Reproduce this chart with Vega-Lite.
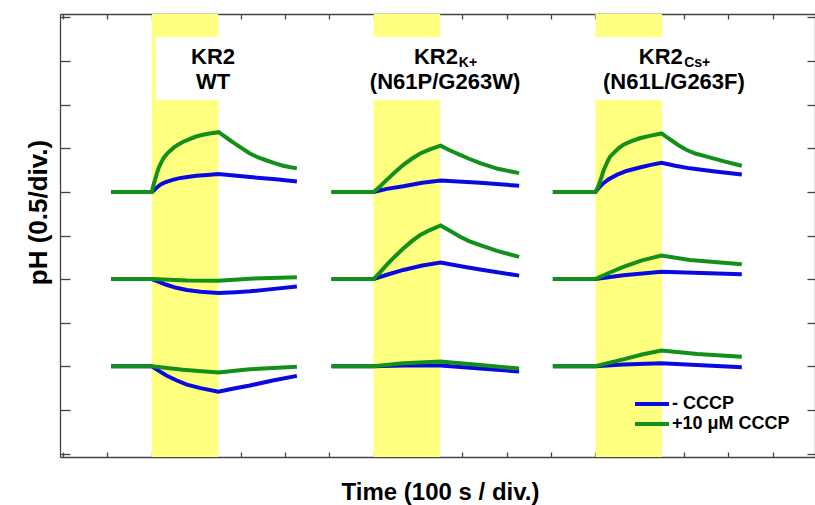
{
  "$schema": "https://vega.github.io/schema/vega-lite/v6.json",
  "width": 755,
  "height": 443,
  "autosize": {"type": "none"},
  "padding": {"left": 60, "top": 14, "right": 0, "bottom": 48},
  "background": "white",
  "config": {
    "view": {"stroke": null},
    "font": "Liberation Sans",
    "legend": {
      "orient": "none",
      "legendX": 583,
      "legendY": 381,
      "title": null,
      "padding": 0,
      "symbolType": "M-3.4,0H3.4",
      "symbolSize": 100,
      "symbolStrokeWidth": 4,
      "labelFont": "Liberation Sans",
      "labelFontSize": 18,
      "labelFontWeight": "bold",
      "labelColor": "black",
      "labelOffset": 11,
      "rowPadding": 2
    }
  },
  "datasets": {
    "bands": [
      {"x": 2, "x2": 3.5, "y": 9.55, "y2": 10.08},
      {"x": 2, "x2": 3.5, "y": -0.08, "y2": 8.11},
      {"x": 2, "x2": 2.09, "y": 8.11, "y2": 9.55},
      {"x": 7, "x2": 8.5, "y": 9.55, "y2": 10.08},
      {"x": 7, "x2": 8.5, "y": -0.08, "y2": 8.11},
      {"x": 12, "x2": 13.5, "y": 9.55, "y2": 10.08},
      {"x": 12, "x2": 13.5, "y": -0.08, "y2": 8.11}
    ],
    "titles": [
      {"x": 3.38, "y": 8.93, "label": "KR2"},
      {"x": 3.38, "y": 8.36, "label": "WT"},
      {"x": 8.61, "y": 8.36, "label": "(N61P/G263W)"},
      {"x": 13.77, "y": 8.36, "label": "(N61L/G263F)"}
    ],
    "heads": [
      {"x": 8.9, "y": 8.93, "label": "KR2"},
      {"x": 13.97, "y": 8.93, "label": "KR2"}
    ],
    "subs": [
      {"x": 8.92, "y": 8.87, "label": "K+"},
      {"x": 14.0, "y": 8.87, "label": "Cs+"}
    ],
    "traces": [
      {"c": "- CCCP", "p": 1, "r": "a", "t": 1.08, "v": 6},
      {"c": "- CCCP", "p": 1, "r": "a", "t": 2, "v": 6},
      {"c": "- CCCP", "p": 1, "r": "a", "t": 2.05, "v": 6.04},
      {"c": "- CCCP", "p": 1, "r": "a", "t": 2.1, "v": 6.09},
      {"c": "- CCCP", "p": 1, "r": "a", "t": 2.15, "v": 6.13},
      {"c": "- CCCP", "p": 1, "r": "a", "t": 2.2, "v": 6.17},
      {"c": "- CCCP", "p": 1, "r": "a", "t": 2.3, "v": 6.22},
      {"c": "- CCCP", "p": 1, "r": "a", "t": 2.45, "v": 6.27},
      {"c": "- CCCP", "p": 1, "r": "a", "t": 2.6, "v": 6.31},
      {"c": "- CCCP", "p": 1, "r": "a", "t": 2.8, "v": 6.34},
      {"c": "- CCCP", "p": 1, "r": "a", "t": 3.0, "v": 6.37},
      {"c": "- CCCP", "p": 1, "r": "a", "t": 3.25, "v": 6.39},
      {"c": "- CCCP", "p": 1, "r": "a", "t": 3.5, "v": 6.41},
      {"c": "- CCCP", "p": 1, "r": "a", "t": 4.21, "v": 6.34},
      {"c": "- CCCP", "p": 1, "r": "a", "t": 4.8, "v": 6.29},
      {"c": "- CCCP", "p": 1, "r": "a", "t": 5.27, "v": 6.24},
      {"c": "- CCCP", "p": 1, "r": "b", "t": 1.08, "v": 4},
      {"c": "- CCCP", "p": 1, "r": "b", "t": 2, "v": 4},
      {"c": "- CCCP", "p": 1, "r": "b", "t": 2.15, "v": 3.94},
      {"c": "- CCCP", "p": 1, "r": "b", "t": 2.33, "v": 3.87},
      {"c": "- CCCP", "p": 1, "r": "b", "t": 2.55, "v": 3.8},
      {"c": "- CCCP", "p": 1, "r": "b", "t": 2.79, "v": 3.75},
      {"c": "- CCCP", "p": 1, "r": "b", "t": 3.1, "v": 3.71},
      {"c": "- CCCP", "p": 1, "r": "b", "t": 3.5, "v": 3.68},
      {"c": "- CCCP", "p": 1, "r": "b", "t": 3.9, "v": 3.7},
      {"c": "- CCCP", "p": 1, "r": "b", "t": 4.21, "v": 3.72},
      {"c": "- CCCP", "p": 1, "r": "b", "t": 4.7, "v": 3.77},
      {"c": "- CCCP", "p": 1, "r": "b", "t": 5.27, "v": 3.83},
      {"c": "- CCCP", "p": 1, "r": "c", "t": 1.08, "v": 2},
      {"c": "- CCCP", "p": 1, "r": "c", "t": 2, "v": 2},
      {"c": "- CCCP", "p": 1, "r": "c", "t": 2.15, "v": 1.9},
      {"c": "- CCCP", "p": 1, "r": "c", "t": 2.33, "v": 1.79},
      {"c": "- CCCP", "p": 1, "r": "c", "t": 2.55, "v": 1.68},
      {"c": "- CCCP", "p": 1, "r": "c", "t": 2.79, "v": 1.58},
      {"c": "- CCCP", "p": 1, "r": "c", "t": 3.1, "v": 1.5},
      {"c": "- CCCP", "p": 1, "r": "c", "t": 3.5, "v": 1.42},
      {"c": "- CCCP", "p": 1, "r": "c", "t": 3.85, "v": 1.49},
      {"c": "- CCCP", "p": 1, "r": "c", "t": 4.21, "v": 1.56},
      {"c": "- CCCP", "p": 1, "r": "c", "t": 4.7, "v": 1.67},
      {"c": "- CCCP", "p": 1, "r": "c", "t": 5.27, "v": 1.78},
      {"c": "- CCCP", "p": 2, "r": "a", "t": 6.05, "v": 6},
      {"c": "- CCCP", "p": 2, "r": "a", "t": 7, "v": 6},
      {"c": "- CCCP", "p": 2, "r": "a", "t": 7.3, "v": 6.07},
      {"c": "- CCCP", "p": 2, "r": "a", "t": 7.67, "v": 6.13},
      {"c": "- CCCP", "p": 2, "r": "a", "t": 8.1, "v": 6.21},
      {"c": "- CCCP", "p": 2, "r": "a", "t": 8.51, "v": 6.26},
      {"c": "- CCCP", "p": 2, "r": "a", "t": 9.4, "v": 6.21},
      {"c": "- CCCP", "p": 2, "r": "a", "t": 10.28, "v": 6.14},
      {"c": "- CCCP", "p": 2, "r": "b", "t": 6.05, "v": 4},
      {"c": "- CCCP", "p": 2, "r": "b", "t": 7, "v": 4},
      {"c": "- CCCP", "p": 2, "r": "b", "t": 7.3, "v": 4.1},
      {"c": "- CCCP", "p": 2, "r": "b", "t": 7.67, "v": 4.21},
      {"c": "- CCCP", "p": 2, "r": "b", "t": 8.1, "v": 4.31},
      {"c": "- CCCP", "p": 2, "r": "b", "t": 8.51, "v": 4.38},
      {"c": "- CCCP", "p": 2, "r": "b", "t": 9.0, "v": 4.29},
      {"c": "- CCCP", "p": 2, "r": "b", "t": 9.4, "v": 4.22},
      {"c": "- CCCP", "p": 2, "r": "b", "t": 10.28, "v": 4.08},
      {"c": "- CCCP", "p": 2, "r": "c", "t": 6.05, "v": 2},
      {"c": "- CCCP", "p": 2, "r": "c", "t": 7, "v": 2},
      {"c": "- CCCP", "p": 2, "r": "c", "t": 7.67, "v": 2.02},
      {"c": "- CCCP", "p": 2, "r": "c", "t": 8.51, "v": 2.02},
      {"c": "- CCCP", "p": 2, "r": "c", "t": 9.4, "v": 1.95},
      {"c": "- CCCP", "p": 2, "r": "c", "t": 10.28, "v": 1.88},
      {"c": "- CCCP", "p": 3, "r": "a", "t": 11.04, "v": 6},
      {"c": "- CCCP", "p": 3, "r": "a", "t": 12, "v": 6},
      {"c": "- CCCP", "p": 3, "r": "a", "t": 12.05, "v": 6.06},
      {"c": "- CCCP", "p": 3, "r": "a", "t": 12.1, "v": 6.12},
      {"c": "- CCCP", "p": 3, "r": "a", "t": 12.18, "v": 6.2},
      {"c": "- CCCP", "p": 3, "r": "a", "t": 12.3, "v": 6.29},
      {"c": "- CCCP", "p": 3, "r": "a", "t": 12.48, "v": 6.39},
      {"c": "- CCCP", "p": 3, "r": "a", "t": 12.7, "v": 6.48},
      {"c": "- CCCP", "p": 3, "r": "a", "t": 13, "v": 6.56},
      {"c": "- CCCP", "p": 3, "r": "a", "t": 13.25, "v": 6.62},
      {"c": "- CCCP", "p": 3, "r": "a", "t": 13.49, "v": 6.67},
      {"c": "- CCCP", "p": 3, "r": "a", "t": 13.8, "v": 6.6},
      {"c": "- CCCP", "p": 3, "r": "a", "t": 14.13, "v": 6.54},
      {"c": "- CCCP", "p": 3, "r": "a", "t": 14.7, "v": 6.47},
      {"c": "- CCCP", "p": 3, "r": "a", "t": 15.3, "v": 6.4},
      {"c": "- CCCP", "p": 3, "r": "b", "t": 11.04, "v": 4},
      {"c": "- CCCP", "p": 3, "r": "b", "t": 12, "v": 4},
      {"c": "- CCCP", "p": 3, "r": "b", "t": 12.63, "v": 4.09},
      {"c": "- CCCP", "p": 3, "r": "b", "t": 13.49, "v": 4.17},
      {"c": "- CCCP", "p": 3, "r": "b", "t": 15.3, "v": 4.11},
      {"c": "- CCCP", "p": 3, "r": "c", "t": 11.04, "v": 2},
      {"c": "- CCCP", "p": 3, "r": "c", "t": 12, "v": 2},
      {"c": "- CCCP", "p": 3, "r": "c", "t": 12.63, "v": 2.04},
      {"c": "- CCCP", "p": 3, "r": "c", "t": 13.49, "v": 2.07},
      {"c": "- CCCP", "p": 3, "r": "c", "t": 15.3, "v": 1.98},
      {"c": "+10 μM CCCP", "p": 1, "r": "a", "t": 1.08, "v": 6},
      {"c": "+10 μM CCCP", "p": 1, "r": "a", "t": 2, "v": 6},
      {"c": "+10 μM CCCP", "p": 1, "r": "a", "t": 2.03, "v": 6.13},
      {"c": "+10 μM CCCP", "p": 1, "r": "a", "t": 2.07, "v": 6.27},
      {"c": "+10 μM CCCP", "p": 1, "r": "a", "t": 2.11, "v": 6.41},
      {"c": "+10 μM CCCP", "p": 1, "r": "a", "t": 2.15, "v": 6.54},
      {"c": "+10 μM CCCP", "p": 1, "r": "a", "t": 2.2, "v": 6.65},
      {"c": "+10 μM CCCP", "p": 1, "r": "a", "t": 2.26, "v": 6.77},
      {"c": "+10 μM CCCP", "p": 1, "r": "a", "t": 2.33, "v": 6.86},
      {"c": "+10 μM CCCP", "p": 1, "r": "a", "t": 2.41, "v": 6.94},
      {"c": "+10 μM CCCP", "p": 1, "r": "a", "t": 2.5, "v": 7.02},
      {"c": "+10 μM CCCP", "p": 1, "r": "a", "t": 2.6, "v": 7.09},
      {"c": "+10 μM CCCP", "p": 1, "r": "a", "t": 2.71, "v": 7.15},
      {"c": "+10 μM CCCP", "p": 1, "r": "a", "t": 2.85, "v": 7.21},
      {"c": "+10 μM CCCP", "p": 1, "r": "a", "t": 3.0, "v": 7.27},
      {"c": "+10 μM CCCP", "p": 1, "r": "a", "t": 3.15, "v": 7.31},
      {"c": "+10 μM CCCP", "p": 1, "r": "a", "t": 3.3, "v": 7.34},
      {"c": "+10 μM CCCP", "p": 1, "r": "a", "t": 3.51, "v": 7.37},
      {"c": "+10 μM CCCP", "p": 1, "r": "a", "t": 3.6, "v": 7.3},
      {"c": "+10 μM CCCP", "p": 1, "r": "a", "t": 3.7, "v": 7.23},
      {"c": "+10 μM CCCP", "p": 1, "r": "a", "t": 3.84, "v": 7.13},
      {"c": "+10 μM CCCP", "p": 1, "r": "a", "t": 4.0, "v": 7.02},
      {"c": "+10 μM CCCP", "p": 1, "r": "a", "t": 4.21, "v": 6.88},
      {"c": "+10 μM CCCP", "p": 1, "r": "a", "t": 4.4, "v": 6.79},
      {"c": "+10 μM CCCP", "p": 1, "r": "a", "t": 4.59, "v": 6.72},
      {"c": "+10 μM CCCP", "p": 1, "r": "a", "t": 4.8, "v": 6.65},
      {"c": "+10 μM CCCP", "p": 1, "r": "a", "t": 4.96, "v": 6.6},
      {"c": "+10 μM CCCP", "p": 1, "r": "a", "t": 5.1, "v": 6.57},
      {"c": "+10 μM CCCP", "p": 1, "r": "a", "t": 5.27, "v": 6.54},
      {"c": "+10 μM CCCP", "p": 1, "r": "b", "t": 1.08, "v": 4},
      {"c": "+10 μM CCCP", "p": 1, "r": "b", "t": 2, "v": 4},
      {"c": "+10 μM CCCP", "p": 1, "r": "b", "t": 2.8, "v": 3.97},
      {"c": "+10 μM CCCP", "p": 1, "r": "b", "t": 3.5, "v": 3.96},
      {"c": "+10 μM CCCP", "p": 1, "r": "b", "t": 4.2, "v": 4.01},
      {"c": "+10 μM CCCP", "p": 1, "r": "b", "t": 5.27, "v": 4.04},
      {"c": "+10 μM CCCP", "p": 1, "r": "c", "t": 1.08, "v": 2},
      {"c": "+10 μM CCCP", "p": 1, "r": "c", "t": 2, "v": 2},
      {"c": "+10 μM CCCP", "p": 1, "r": "c", "t": 2.7, "v": 1.92},
      {"c": "+10 μM CCCP", "p": 1, "r": "c", "t": 3.5, "v": 1.86},
      {"c": "+10 μM CCCP", "p": 1, "r": "c", "t": 4.2, "v": 1.93},
      {"c": "+10 μM CCCP", "p": 1, "r": "c", "t": 5.27, "v": 1.99},
      {"c": "+10 μM CCCP", "p": 2, "r": "a", "t": 6.05, "v": 6},
      {"c": "+10 μM CCCP", "p": 2, "r": "a", "t": 7, "v": 6},
      {"c": "+10 μM CCCP", "p": 2, "r": "a", "t": 7.15, "v": 6.13},
      {"c": "+10 μM CCCP", "p": 2, "r": "a", "t": 7.29, "v": 6.27},
      {"c": "+10 μM CCCP", "p": 2, "r": "a", "t": 7.48, "v": 6.45},
      {"c": "+10 μM CCCP", "p": 2, "r": "a", "t": 7.67, "v": 6.62},
      {"c": "+10 μM CCCP", "p": 2, "r": "a", "t": 7.86, "v": 6.76},
      {"c": "+10 μM CCCP", "p": 2, "r": "a", "t": 8.05, "v": 6.88},
      {"c": "+10 μM CCCP", "p": 2, "r": "a", "t": 8.28, "v": 6.98},
      {"c": "+10 μM CCCP", "p": 2, "r": "a", "t": 8.51, "v": 7.06},
      {"c": "+10 μM CCCP", "p": 2, "r": "a", "t": 8.7, "v": 6.96},
      {"c": "+10 μM CCCP", "p": 2, "r": "a", "t": 8.95, "v": 6.85},
      {"c": "+10 μM CCCP", "p": 2, "r": "a", "t": 9.15, "v": 6.76},
      {"c": "+10 μM CCCP", "p": 2, "r": "a", "t": 9.4, "v": 6.66},
      {"c": "+10 μM CCCP", "p": 2, "r": "a", "t": 9.8, "v": 6.53},
      {"c": "+10 μM CCCP", "p": 2, "r": "a", "t": 10.28, "v": 6.43},
      {"c": "+10 μM CCCP", "p": 2, "r": "b", "t": 6.05, "v": 4},
      {"c": "+10 μM CCCP", "p": 2, "r": "b", "t": 7, "v": 4},
      {"c": "+10 μM CCCP", "p": 2, "r": "b", "t": 7.15, "v": 4.16},
      {"c": "+10 μM CCCP", "p": 2, "r": "b", "t": 7.29, "v": 4.32},
      {"c": "+10 μM CCCP", "p": 2, "r": "b", "t": 7.48, "v": 4.52},
      {"c": "+10 μM CCCP", "p": 2, "r": "b", "t": 7.67, "v": 4.7},
      {"c": "+10 μM CCCP", "p": 2, "r": "b", "t": 7.86, "v": 4.87},
      {"c": "+10 μM CCCP", "p": 2, "r": "b", "t": 8.05, "v": 5.01},
      {"c": "+10 μM CCCP", "p": 2, "r": "b", "t": 8.28, "v": 5.13},
      {"c": "+10 μM CCCP", "p": 2, "r": "b", "t": 8.51, "v": 5.23},
      {"c": "+10 μM CCCP", "p": 2, "r": "b", "t": 8.7, "v": 5.12},
      {"c": "+10 μM CCCP", "p": 2, "r": "b", "t": 8.95, "v": 4.97},
      {"c": "+10 μM CCCP", "p": 2, "r": "b", "t": 9.15, "v": 4.87},
      {"c": "+10 μM CCCP", "p": 2, "r": "b", "t": 9.4, "v": 4.78},
      {"c": "+10 μM CCCP", "p": 2, "r": "b", "t": 9.8, "v": 4.64},
      {"c": "+10 μM CCCP", "p": 2, "r": "b", "t": 10.28, "v": 4.51},
      {"c": "+10 μM CCCP", "p": 2, "r": "c", "t": 6.05, "v": 2},
      {"c": "+10 μM CCCP", "p": 2, "r": "c", "t": 7, "v": 2},
      {"c": "+10 μM CCCP", "p": 2, "r": "c", "t": 7.67, "v": 2.07},
      {"c": "+10 μM CCCP", "p": 2, "r": "c", "t": 8.51, "v": 2.11},
      {"c": "+10 μM CCCP", "p": 2, "r": "c", "t": 9.4, "v": 2.03},
      {"c": "+10 μM CCCP", "p": 2, "r": "c", "t": 10.28, "v": 1.95},
      {"c": "+10 μM CCCP", "p": 3, "r": "a", "t": 11.04, "v": 6},
      {"c": "+10 μM CCCP", "p": 3, "r": "a", "t": 12, "v": 6},
      {"c": "+10 μM CCCP", "p": 3, "r": "a", "t": 12.04, "v": 6.07},
      {"c": "+10 μM CCCP", "p": 3, "r": "a", "t": 12.08, "v": 6.17},
      {"c": "+10 μM CCCP", "p": 3, "r": "a", "t": 12.11, "v": 6.26},
      {"c": "+10 μM CCCP", "p": 3, "r": "a", "t": 12.14, "v": 6.35},
      {"c": "+10 μM CCCP", "p": 3, "r": "a", "t": 12.18, "v": 6.48},
      {"c": "+10 μM CCCP", "p": 3, "r": "a", "t": 12.23, "v": 6.6},
      {"c": "+10 μM CCCP", "p": 3, "r": "a", "t": 12.28, "v": 6.71},
      {"c": "+10 μM CCCP", "p": 3, "r": "a", "t": 12.33, "v": 6.81},
      {"c": "+10 μM CCCP", "p": 3, "r": "a", "t": 12.42, "v": 6.9},
      {"c": "+10 μM CCCP", "p": 3, "r": "a", "t": 12.52, "v": 7.0},
      {"c": "+10 μM CCCP", "p": 3, "r": "a", "t": 12.63, "v": 7.08},
      {"c": "+10 μM CCCP", "p": 3, "r": "a", "t": 12.8, "v": 7.16},
      {"c": "+10 μM CCCP", "p": 3, "r": "a", "t": 13, "v": 7.23},
      {"c": "+10 μM CCCP", "p": 3, "r": "a", "t": 13.25, "v": 7.29},
      {"c": "+10 μM CCCP", "p": 3, "r": "a", "t": 13.49, "v": 7.34},
      {"c": "+10 μM CCCP", "p": 3, "r": "a", "t": 13.6, "v": 7.26},
      {"c": "+10 μM CCCP", "p": 3, "r": "a", "t": 13.76, "v": 7.15},
      {"c": "+10 μM CCCP", "p": 3, "r": "a", "t": 13.9, "v": 7.05},
      {"c": "+10 μM CCCP", "p": 3, "r": "a", "t": 14.06, "v": 6.96},
      {"c": "+10 μM CCCP", "p": 3, "r": "a", "t": 14.25, "v": 6.88},
      {"c": "+10 μM CCCP", "p": 3, "r": "a", "t": 14.51, "v": 6.81},
      {"c": "+10 μM CCCP", "p": 3, "r": "a", "t": 14.9, "v": 6.7},
      {"c": "+10 μM CCCP", "p": 3, "r": "a", "t": 15.3, "v": 6.6},
      {"c": "+10 μM CCCP", "p": 3, "r": "b", "t": 11.04, "v": 4},
      {"c": "+10 μM CCCP", "p": 3, "r": "b", "t": 12, "v": 4},
      {"c": "+10 μM CCCP", "p": 3, "r": "b", "t": 12.3, "v": 4.14},
      {"c": "+10 μM CCCP", "p": 3, "r": "b", "t": 12.63, "v": 4.28},
      {"c": "+10 μM CCCP", "p": 3, "r": "b", "t": 13.05, "v": 4.43},
      {"c": "+10 μM CCCP", "p": 3, "r": "b", "t": 13.49, "v": 4.54},
      {"c": "+10 μM CCCP", "p": 3, "r": "b", "t": 14.13, "v": 4.44},
      {"c": "+10 μM CCCP", "p": 3, "r": "b", "t": 15.3, "v": 4.34},
      {"c": "+10 μM CCCP", "p": 3, "r": "c", "t": 11.04, "v": 2},
      {"c": "+10 μM CCCP", "p": 3, "r": "c", "t": 12, "v": 2},
      {"c": "+10 μM CCCP", "p": 3, "r": "c", "t": 12.3, "v": 2.08},
      {"c": "+10 μM CCCP", "p": 3, "r": "c", "t": 12.63, "v": 2.16},
      {"c": "+10 μM CCCP", "p": 3, "r": "c", "t": 13.05, "v": 2.27},
      {"c": "+10 μM CCCP", "p": 3, "r": "c", "t": 13.49, "v": 2.36},
      {"c": "+10 μM CCCP", "p": 3, "r": "c", "t": 14.3, "v": 2.28},
      {"c": "+10 μM CCCP", "p": 3, "r": "c", "t": 15.3, "v": 2.22}
    ]
  },
  "layer": [
    {
      "data": {"name": "bands"},
      "mark": {"type": "rect", "color": "#ffff80"},
      "encoding": {
        "x": {
          "field": "x", "type": "quantitative",
          "scale": {"domain": [-0.07, 16.95], "nice": false, "zero": false},
          "axis": {
            "orient": "bottom", "values": [0,1,2,3,4,5,6,7,8,9,10,11,12,13,14,15,16],
            "labels": false, "grid": false, "tickSize": -5, "tickColor": "#444", "tickWidth": 1.3,
            "domainColor": "#444", "domainWidth": 1.3,
            "title": "Time (100 s / div.)", "titleFont": "Liberation Sans", "titleFontSize": 24,
            "titleFontWeight": "bold", "titleColor": "black", "titleX": 380, "titleY": 42,
            "titleBaseline": "alphabetic"
          }
        },
        "x2": {"field": "x2"},
        "y": {
          "field": "y", "type": "quantitative",
          "scale": {"domain": [-0.08, 10.08], "nice": false, "zero": false},
          "axis": {
            "orient": "left", "values": [0,1,2,3,4,5,6,7,8,9,10],
            "labels": false, "grid": false, "tickSize": -10, "tickColor": "#444", "tickWidth": 1.3,
            "domainColor": "#444", "domainWidth": 1.3,
            "title": "pH (0.5/div.)", "titleFont": "Liberation Sans", "titleFontSize": 26,
            "titleFontWeight": "bold", "titleColor": "black", "titleX": -14, "titleY": 198,
            "titleBaseline": "alphabetic"
          }
        },
        "y2": {"field": "y2"}
      }
    },
    {
      "data": {"name": "traces"},
      "transform": [{"filter": "datum.c === '- CCCP'"}],
      "mark": {"type": "line", "strokeWidth": 4},
      "encoding": {
        "x": {"field": "t", "type": "quantitative", "scale": {"domain": [-0.07, 16.95], "nice": false, "zero": false}, "axis": null},
        "y": {"field": "v", "type": "quantitative", "scale": {"domain": [-0.08, 10.08], "nice": false, "zero": false}, "axis": null},
        "color": {"field": "c", "type": "nominal", "scale": {"domain": ["- CCCP", "+10 μM CCCP"], "range": ["#0a0ae0", "#12901a"]}},
        "detail": [{"field": "p"}, {"field": "r"}],
        "order": {"field": "t"}
      }
    },
    {
      "data": {"name": "traces"},
      "transform": [{"filter": "datum.c !== '- CCCP'"}],
      "mark": {"type": "line", "strokeWidth": 4},
      "encoding": {
        "x": {"field": "t", "type": "quantitative", "scale": {"domain": [-0.07, 16.95], "nice": false, "zero": false}, "axis": null},
        "y": {"field": "v", "type": "quantitative", "scale": {"domain": [-0.08, 10.08], "nice": false, "zero": false}, "axis": null},
        "color": {"field": "c", "type": "nominal", "scale": {"domain": ["- CCCP", "+10 μM CCCP"], "range": ["#0a0ae0", "#12901a"]}},
        "detail": [{"field": "p"}, {"field": "r"}],
        "order": {"field": "t"}
      }
    },
    {
      "data": {"name": "titles"},
      "mark": {"type": "text", "align": "center", "baseline": "alphabetic", "fontSize": 22, "fontWeight": "bold", "font": "Liberation Sans", "color": "black"},
      "encoding": {
        "x": {"field": "x", "type": "quantitative", "scale": {"domain": [-0.07, 16.95], "nice": false, "zero": false}, "axis": null},
        "y": {"field": "y", "type": "quantitative", "scale": {"domain": [-0.08, 10.08], "nice": false, "zero": false}, "axis": null},
        "text": {"field": "label"}
      }
    },
    {
      "data": {"name": "heads"},
      "mark": {"type": "text", "align": "right", "baseline": "alphabetic", "fontSize": 22, "fontWeight": "bold", "font": "Liberation Sans", "color": "black"},
      "encoding": {
        "x": {"field": "x", "type": "quantitative", "scale": {"domain": [-0.07, 16.95], "nice": false, "zero": false}, "axis": null},
        "y": {"field": "y", "type": "quantitative", "scale": {"domain": [-0.08, 10.08], "nice": false, "zero": false}, "axis": null},
        "text": {"field": "label"}
      }
    },
    {
      "data": {"name": "subs"},
      "mark": {"type": "text", "align": "left", "baseline": "alphabetic", "fontSize": 14, "fontWeight": "bold", "font": "Liberation Sans", "color": "black"},
      "encoding": {
        "x": {"field": "x", "type": "quantitative", "scale": {"domain": [-0.07, 16.95], "nice": false, "zero": false}, "axis": null},
        "y": {"field": "y", "type": "quantitative", "scale": {"domain": [-0.08, 10.08], "nice": false, "zero": false}, "axis": null},
        "text": {"field": "label"}
      }
    },
    {
      "data": {"name": "bands"},
      "mark": {"type": "point", "opacity": 0},
      "encoding": {
        "x": {
          "field": "x", "type": "quantitative",
          "scale": {"domain": [-0.07, 16.95], "nice": false, "zero": false},
          "axis": {
            "orient": "top", "values": [0,1,2,3,4,5,6,7,8,9,10,11,12,13,14,15,16],
            "labels": false, "grid": false, "tickSize": -5, "tickColor": "#444", "tickWidth": 1.3,
            "domainColor": "#444", "domainWidth": 1.3, "title": null
          }
        },
        "y": {
          "field": "y", "type": "quantitative",
          "scale": {"domain": [-0.08, 10.08], "nice": false, "zero": false},
          "axis": {
            "orient": "right", "values": [0,1,2,3,4,5,6,7,8,9,10],
            "labels": false, "grid": false, "tickSize": -8, "tickColor": "#444", "tickWidth": 1.3,
            "domainColor": "#444", "domainWidth": 1.3, "title": null
          }
        }
      }
    }
  ],
  "resolve": {"axis": {"x": "independent", "y": "independent"}}
}
